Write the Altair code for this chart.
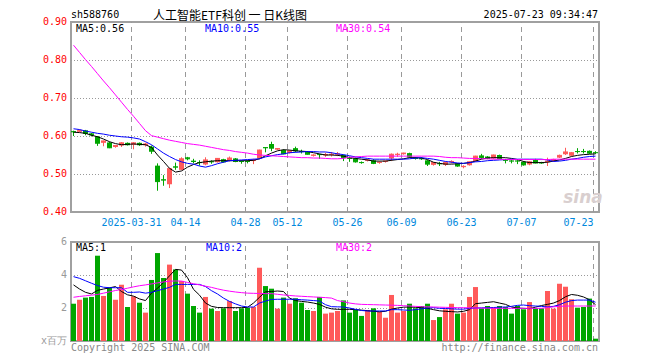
import altair as alt
import pandas as pd

# ---------------- data ----------------
opens = [0.613, 0.611, 0.615, 0.607, 0.599, 0.582, 0.583, 0.571, 0.575, 0.582,
         0.577, 0.582, 0.576, 0.572, 0.522, 0.486, 0.473, 0.520, 0.511, 0.544,
         0.535, 0.531, 0.525, 0.533, 0.531, 0.539, 0.535, 0.541, 0.534, 0.534,
         0.534, 0.541, 0.571, 0.579, 0.564, 0.563, 0.555, 0.568, 0.560, 0.559,
         0.548, 0.552, 0.549, 0.550, 0.551, 0.550, 0.543, 0.541, 0.531, 0.535,
         0.536, 0.529, 0.532, 0.541, 0.550, 0.552, 0.555, 0.543, 0.542, 0.536,
         0.524, 0.528, 0.524, 0.531, 0.528, 0.518, 0.523, 0.534, 0.549, 0.546,
         0.541, 0.550, 0.538, 0.535, 0.535, 0.532, 0.525, 0.537, 0.531, 0.531,
         0.534, 0.543, 0.552, 0.548, 0.560, 0.560, 0.561, 0.557]
highs = [0.614, 0.617, 0.616, 0.608, 0.600, 0.588, 0.585, 0.576, 0.584, 0.583,
         0.584, 0.583, 0.582, 0.575, 0.528, 0.497, 0.516, 0.530, 0.544, 0.545,
         0.540, 0.536, 0.544, 0.536, 0.542, 0.540, 0.546, 0.542, 0.536, 0.536,
         0.540, 0.564, 0.571, 0.585, 0.568, 0.565, 0.562, 0.572, 0.564, 0.560,
         0.552, 0.553, 0.556, 0.558, 0.558, 0.551, 0.546, 0.543, 0.533, 0.540,
         0.539, 0.533, 0.535, 0.554, 0.556, 0.556, 0.556, 0.545, 0.544, 0.537,
         0.531, 0.532, 0.533, 0.536, 0.529, 0.523, 0.533, 0.548, 0.553, 0.547,
         0.551, 0.551, 0.540, 0.537, 0.537, 0.534, 0.534, 0.540, 0.532, 0.543,
         0.540, 0.551, 0.569, 0.558, 0.568, 0.566, 0.562, 0.560]
lows = [0.600, 0.610, 0.602, 0.599, 0.574, 0.573, 0.568, 0.569, 0.571, 0.575,
        0.565, 0.574, 0.572, 0.553, 0.456, 0.469, 0.463, 0.511, 0.510, 0.536,
        0.528, 0.522, 0.523, 0.527, 0.530, 0.530, 0.533, 0.531, 0.527, 0.528,
        0.526, 0.540, 0.557, 0.560, 0.563, 0.552, 0.554, 0.557, 0.554, 0.551,
        0.546, 0.540, 0.545, 0.546, 0.547, 0.534, 0.532, 0.530, 0.527, 0.533,
        0.526, 0.527, 0.530, 0.534, 0.545, 0.551, 0.543, 0.538, 0.537, 0.521,
        0.522, 0.521, 0.521, 0.528, 0.519, 0.515, 0.522, 0.533, 0.539, 0.539,
        0.540, 0.540, 0.528, 0.528, 0.526, 0.522, 0.523, 0.528, 0.527, 0.521,
        0.533, 0.542, 0.550, 0.547, 0.554, 0.554, 0.553, 0.553]
closes = [0.611, 0.615, 0.607, 0.603, 0.581, 0.587, 0.569, 0.575, 0.582, 0.577,
          0.582, 0.577, 0.579, 0.560, 0.480, 0.484, 0.514, 0.518, 0.540, 0.540,
          0.533, 0.530, 0.537, 0.532, 0.541, 0.532, 0.542, 0.533, 0.533, 0.533,
          0.537, 0.563, 0.569, 0.568, 0.567, 0.553, 0.561, 0.561, 0.559, 0.552,
          0.550, 0.551, 0.551, 0.552, 0.553, 0.543, 0.541, 0.532, 0.530, 0.537,
          0.528, 0.531, 0.534, 0.552, 0.552, 0.555, 0.545, 0.541, 0.540, 0.526,
          0.530, 0.527, 0.530, 0.533, 0.521, 0.520, 0.532, 0.547, 0.543, 0.541,
          0.550, 0.541, 0.536, 0.534, 0.534, 0.524, 0.532, 0.529, 0.529, 0.534,
          0.538, 0.549, 0.558, 0.556, 0.559, 0.559, 0.555, 0.556]
ma5 = [0.610, 0.609, 0.607, 0.602, 0.598, 0.592, 0.585, 0.580, 0.577, 0.578,
       0.579, 0.578, 0.577, 0.570, 0.550, 0.533, 0.515, 0.505, 0.508, 0.518,
       0.525, 0.530, 0.532, 0.534, 0.535, 0.535, 0.535, 0.535, 0.535, 0.535,
       0.536, 0.540, 0.548, 0.555, 0.561, 0.564, 0.563, 0.561, 0.560, 0.559,
       0.556, 0.553, 0.550, 0.550, 0.549, 0.547, 0.543, 0.541, 0.539, 0.537,
       0.534, 0.534, 0.534, 0.536, 0.538, 0.540, 0.543, 0.543, 0.542, 0.538,
       0.531, 0.528, 0.526, 0.526, 0.527, 0.528, 0.530, 0.534, 0.539, 0.542,
       0.543, 0.543, 0.543, 0.541, 0.538, 0.533, 0.530, 0.530, 0.530, 0.531,
       0.534, 0.537, 0.541, 0.546, 0.549, 0.551, 0.552, 0.553]
ma10 = [0.619, 0.617, 0.613, 0.610, 0.607, 0.605, 0.602, 0.600, 0.598, 0.597,
        0.595, 0.592, 0.585, 0.577, 0.566, 0.555, 0.546, 0.538, 0.532, 0.528,
        0.526, 0.521, 0.518, 0.522, 0.527, 0.531, 0.535, 0.536, 0.537, 0.538,
        0.539, 0.540, 0.545, 0.548, 0.551, 0.553, 0.556, 0.557, 0.558, 0.559,
        0.559, 0.558, 0.558, 0.556, 0.553, 0.551, 0.548, 0.545, 0.543, 0.541,
        0.539, 0.539, 0.539, 0.539, 0.539, 0.539, 0.540, 0.542, 0.543, 0.541,
        0.539, 0.536, 0.533, 0.531, 0.529, 0.528, 0.530, 0.532, 0.533, 0.535,
        0.536, 0.537, 0.538, 0.539, 0.539, 0.539, 0.539, 0.539, 0.539, 0.537,
        0.533, 0.534, 0.536, 0.539, 0.541, 0.544, 0.546, 0.547]
ma30 = [0.839, 0.820, 0.801, 0.783, 0.764, 0.745, 0.727, 0.708, 0.689, 0.670,
        0.652, 0.633, 0.614, 0.601, 0.597, 0.593, 0.589, 0.586, 0.583, 0.580,
        0.578, 0.576, 0.573, 0.570, 0.567, 0.564, 0.562, 0.559, 0.557, 0.555,
        0.552, 0.550, 0.549, 0.548, 0.547, 0.546, 0.545, 0.544, 0.543, 0.543,
        0.542, 0.542, 0.541, 0.540, 0.540, 0.541, 0.544, 0.545, 0.546, 0.547,
        0.547, 0.547, 0.547, 0.547, 0.547, 0.547, 0.547, 0.547, 0.547, 0.547,
        0.547, 0.546, 0.544, 0.543, 0.543, 0.542, 0.541, 0.541, 0.540, 0.540,
        0.539, 0.539, 0.538, 0.538, 0.538, 0.538, 0.538, 0.538, 0.538, 0.538,
        0.539, 0.539, 0.539, 0.539, 0.539, 0.539, 0.539, 0.539]
volumes = [2.26, 2.50, 2.63, 2.67, 5.17, 2.73, 3.23, 2.50, 3.41, 2.06,
           2.71, 2.32, 1.72, 3.70, 5.33, 3.82, 4.63, 4.34, 3.64, 2.87,
           2.12, 1.72, 2.67, 1.96, 1.82, 1.98, 2.42, 1.82, 1.98, 2.02,
           2.06, 4.44, 3.33, 3.17, 1.96, 2.63, 2.26, 2.59, 2.32, 1.88,
           1.82, 2.67, 1.66, 1.72, 1.82, 2.46, 1.72, 1.88, 1.52, 1.88,
           1.98, 1.78, 1.41, 2.79, 1.72, 1.82, 2.26, 1.98, 2.12, 2.26,
           1.27, 1.45, 1.92, 2.26, 1.66, 1.72, 2.67, 3.27, 1.98, 2.12,
           2.02, 2.12, 2.06, 1.66, 2.12, 1.92, 2.36, 1.98, 1.98, 3.03,
           1.96, 3.47, 3.29, 2.53, 2.02, 2.06, 2.57, 0.14]
vma5 = [3.40, 3.15, 2.95, 2.85, 3.07, 3.15, 3.22, 3.30, 3.00, 2.80,
        2.72, 2.55, 2.45, 2.90, 3.20, 3.55, 3.95, 4.34, 4.30, 3.84,
        3.13, 2.78, 2.30, 2.10, 2.03, 2.02, 2.02, 2.02, 2.02, 2.04,
        2.30, 2.65, 2.98, 3.00, 3.03, 3.00, 2.60, 2.45, 2.40, 2.36,
        2.30, 2.22, 2.05, 1.95, 1.92, 1.92, 1.92, 1.90, 1.87, 1.84,
        1.80, 1.77, 1.80, 1.93, 2.00, 2.05, 2.06, 2.04, 2.02, 1.98,
        1.90, 1.83, 1.80, 1.78, 1.76, 1.80, 1.90, 2.26, 2.30, 2.34,
        2.38, 2.30, 2.22, 2.06, 2.00, 1.98, 1.96, 2.05, 2.15, 2.22,
        2.30, 2.45, 2.68, 2.82, 2.77, 2.67, 2.50, 2.20]
vma10 = [3.90, 3.80, 3.65, 3.50, 3.36, 3.26, 3.23, 3.23, 3.23, 2.95,
         2.95, 2.97, 2.90, 2.95, 3.05, 3.15, 3.25, 3.43, 3.43, 3.43,
         3.43, 3.43, 3.30, 3.05, 2.85, 2.60, 2.40, 2.25, 2.12, 2.06,
         2.06, 2.30, 2.42, 2.52, 2.53, 2.53, 2.53, 2.53, 2.50, 2.48,
         2.45, 2.42, 2.20, 2.08, 2.07, 2.06, 2.00, 1.92, 1.85, 1.82,
         1.82, 1.82, 1.82, 1.90, 1.90, 1.88, 1.86, 1.90, 1.95, 2.00,
         2.02, 1.98, 1.97, 1.95, 1.93, 1.93, 1.98, 2.00, 2.01, 2.02,
         2.03, 2.05, 2.06, 2.10, 2.16, 2.18, 2.14, 2.12, 2.10, 2.06,
         2.10, 2.20, 2.35, 2.45, 2.48, 2.48, 2.48, 2.35]
vma30 = [2.65, 2.70, 2.74, 2.78, 2.82, 2.90, 2.98, 3.06, 3.12, 3.20,
         3.28, 3.35, 3.40, 3.46, 3.52, 3.58, 3.62, 3.64, 3.63, 3.55,
         3.47, 3.40, 3.32, 3.25, 3.16, 3.08, 3.02, 2.97, 2.93, 2.90,
         2.89, 2.88, 2.87, 2.87, 2.83, 2.79, 2.76, 2.73, 2.71, 2.69,
         2.67, 2.65, 2.63, 2.60, 2.45, 2.38, 2.30, 2.25, 2.22, 2.21,
         2.20, 2.19, 2.18, 2.17, 2.16, 2.14, 2.12, 2.10, 2.08, 2.07,
         2.06, 2.05, 2.04, 2.03, 2.02, 2.02, 2.01, 2.00, 1.99, 1.99,
         1.98, 1.98, 1.98, 1.98, 1.98, 1.98, 1.98, 1.98, 1.98, 2.03,
         2.07, 2.10, 2.12, 2.12, 2.12, 2.12, 2.12, 2.12]
tick_index = [10, 19, 29, 36, 46, 55, 65, 75, 87]
tick_labels = ["2025-03-31", "04-14", "04-28", "05-12", "05-26",
               "06-09", "06-23", "07-07", "07-23"]
price_ticks = [0.40, 0.50, 0.60, 0.70, 0.80, 0.90]
vol_ticks = [0, 2, 4, 6]
vol_tick_labels = ["x百万", "2", "4", "6"]
price_ma_labels = ["MA5:0.56", "MA10:0.55", "MA30:0.54"]
vol_ma_labels = ["MA5:1", "MA10:2", "MA30:2"]
code_text = "sh588760"
title_text = "人工智能ETF科创 一 日K线图"
time_text = "2025-07-23 09:34:47"
copyright_text = "Copyright 2025 SINA.COM"
url_text = "http://finance.sina.com.cn"

# ---------------- styling ----------------
UP, DOWN = "#ff5a5a", "#00a600"
MA_COLORS = ["#000000", "#0000ff", "#ff00ff"]
MONO = "DejaVu Sans Mono"
CJK = "Noto Sans CJK SC"
W, HP, HV = 528, 190, 99
n = len(closes)

df = pd.DataFrame({
    "i": list(range(n)), "open": opens, "high": highs, "low": lows,
    "close": closes, "vol": volumes, "ma5": ma5, "ma10": ma10, "ma30": ma30,
    "vma5": vma5, "vma10": vma10, "vma30": vma30,
})
df["dir"] = ["up" if c >= o else "down" for o, c in zip(opens, closes)]

color = alt.Color("dir:N", scale=alt.Scale(domain=["up", "down"], range=[UP, DOWN]), legend=None)
xscale = alt.Scale(domain=[0, n], nice=False, zero=False)
yp = alt.Scale(domain=[price_ticks[0], price_ticks[-1]], nice=False, zero=False)
yv = alt.Scale(domain=[vol_ticks[0], vol_ticks[-1]], nice=False)
label_expr = ("[" + ",".join("'%s'" % s for s in tick_labels) + "][indexof(["
              + ",".join(str(v) for v in tick_index) + "], datum.value)]")

x_axis_price = alt.Axis(values=tick_index, labelExpr=label_expr, grid=False,
                        ticks=False, domain=False,
                        labelColor="#0088dd", labelFont=MONO, labelFontSize=10,
                        labelPadding=5, labelFlush=10, labelOverlap=False,
                        minExtent=15, maxExtent=15, title=None)

# slot i covers [i, i+1); body takes 5 of its 6 pixels, wick sits in the body's middle
base = alt.Chart(df).transform_calculate(
    left="datum.i", right="datum.i + 5/6", mid="datum.i + 2.5/6")


def text_layer(txt, x, y, col, font=MONO, size=10, align="left", baseline="top", **kw):
    return alt.Chart(pd.DataFrame({"s": [txt]})).mark_text(
        font=font, fontSize=size, align=align, baseline=baseline, color=col, **kw
    ).encode(x=alt.value(x), y=alt.value(y), text="s:N")


def y_labels(vals, labs, yscale, col):
    d = pd.DataFrame({"v": vals, "lab": labs})
    return alt.Chart(d).mark_text(font=MONO, fontSize=10, align="right", baseline="middle",
                                  color=col).encode(
        x=alt.value(-4), y=alt.Y("v:Q", scale=yscale, axis=None), text="lab:N")


def y_grid(vals, yscale):
    d = pd.DataFrame({"v": vals})
    return alt.Chart(d).mark_rule(color="#999999", strokeWidth=1, strokeDash=[1, 2],
                                  yOffset=0.5).encode(
        x=alt.value(0), x2=alt.value(W), y=alt.Y("v:Q", scale=yscale, axis=None))


def x_grid(lo, hi, yscale, axis):
    # vertical dashed lines at the date ticks, spanning the panel's value range
    d = pd.DataFrame({"tk": tick_index, "lo": [lo] * len(tick_index),
                      "hi": [hi] * len(tick_index)})
    return alt.Chart(d).mark_rule(color="#999999", strokeWidth=1, strokeDash=[5, 4],
                                  xOffset=0.5).encode(
        x=alt.X("tk:Q", scale=xscale, axis=axis),
        y=alt.Y("lo:Q", scale=yscale, axis=None), y2="hi:Q")


# ---------------- price panel ----------------
wick = base.mark_rule(strokeWidth=1).encode(
    x=alt.X("mid:Q"),
    y=alt.Y("low:Q", axis=None), y2="high:Q", color=color)
body = base.mark_rect().encode(
    x=alt.X("left:Q"), x2="right:Q", y=alt.Y("open:Q", axis=None), y2="close:Q",
    color=color)
dash = base.mark_rule(strokeWidth=1).encode(
    x=alt.X("left:Q"), x2="right:Q", y=alt.Y("close:Q", axis=None), color=color)
price_lines = [
    base.mark_line(strokeWidth=1, color=c).encode(
        x=alt.X("mid:Q"), y=alt.Y(f"{k}:Q", axis=None))
    for k, c in zip(["ma5", "ma10", "ma30"], MA_COLORS)
]
price_texts = [text_layer(t, xx, 2, c) for t, xx, c in
               zip(price_ma_labels, [5, 134, 265], MA_COLORS)]
head_texts = [
    # invisible spacers fixing the layout's top and left edges
    text_layer(" ", 0, -13, "#ffffff", opacity=0),
    text_layer(" ", -62, 0, "#ffffff", opacity=0),
    text_layer(code_text, 0, -12, "#000000"),
    text_layer(title_text, 82, -11, "#000000", font=CJK, size=12),
    text_layer(time_text, 527, -12, "#000000", align="right"),
    text_layer("sina", 512, 181, "#d9cfcf", font="DejaVu Sans", size=17, align="center",
               baseline="alphabetic", fontWeight="bold", fontStyle="italic"),
]
price = alt.layer(
    x_grid(price_ticks[0], price_ticks[-1], yp, x_axis_price),
    y_grid(price_ticks[1:-1], yp),
    wick, body, dash, *price_lines,
    y_labels(price_ticks, ["%.2f" % v for v in price_ticks], yp, "#ff0000"),
    *price_texts, *head_texts,
).properties(width=W, height=HP)

# ---------------- volume panel ----------------
vbars = base.mark_rect().encode(
    x=alt.X("left:Q", axis=None), x2="right:Q",
    y=alt.Y("vol:Q", axis=None), y2=alt.datum(0), color=color)
vol_lines = [
    base.mark_line(strokeWidth=1, color=c).encode(
        x=alt.X("mid:Q", axis=None), y=alt.Y(f"{k}:Q", axis=None))
    for k, c in zip(["vma5", "vma10", "vma30"], MA_COLORS)
]
vol_texts = [text_layer(t, xx, 1, c) for t, xx, c in
             zip(vol_ma_labels, [5, 135, 265], MA_COLORS)]
foot_texts = [
    text_layer(" ", -62, 0, "#ffffff", opacity=0),
    text_layer(copyright_text, 0, HV + 2, "#888888"),
    text_layer(url_text, 527, HV + 2, "#888888", align="right"),
]
volume = alt.layer(
    x_grid(vol_ticks[0], vol_ticks[-1], yv, None),
    y_grid(vol_ticks[1:-1], yv),
    vbars, *vol_lines,
    y_labels(vol_ticks, vol_tick_labels, yv, "#999999"),
    *vol_texts, *foot_texts,
).properties(width=W, height=HV)

chart = alt.vconcat(price, volume, spacing=8, padding=0, background="white").configure_view(
    stroke="#a0a0a0", strokeWidth=2)

chart.save("out.html", embed_options={"renderer": "svg", "actions": False})
